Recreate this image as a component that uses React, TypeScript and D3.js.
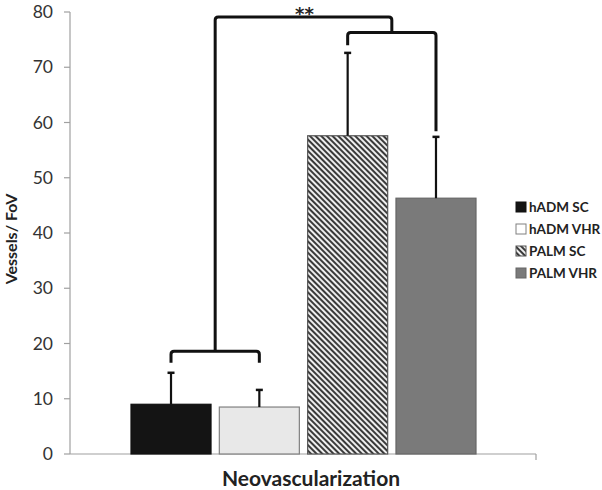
import React from "react";
import * as d3 from "d3";

const groupLabel = "Neovascularization";
const categories = ["hADM SC", "hADM VHR", "PALM SC", "PALM VHR"];
const means = [9.0, 8.5, 57.6, 46.3];
const errors = [5.7, 3.1, 15.0, 11.1];
const yTicks = [0, 10, 20, 30, 40, 50, 60, 70, 80];
const fills = ["#141414", "#e8e8e8", "url(#hatch)", "#7a7a7a"];
const strokes = ["#111", "#808080", "#555", "#666"];
// bracket levels (values)
const lowBracketLevel = 18.6;
const lowBracketLegEnd = 16.5;
const highBracketLevel = 79.1;
const midBracketLevel = 76.3;
const midBracketLegEnds = [74.0, 58.4];
const starLabel = "**";

export default function App() {
  const W = 602, H = 490;
  const y = d3.scaleLinear().domain([0, 80]).range([454, 12]);
  const x0 = d3.scaleBand().domain([groupLabel]).range([70, 536]);
  const gx = x0(groupLabel)!;
  const bw0 = x0.bandwidth();
  const x1 = d3.scaleBand().domain(categories).range([gx + 61, gx + bw0 - 60]).paddingInner(0.094);
  const cx = (i: number) => x1(categories[i])! + x1.bandwidth() / 2;

  const lb = (a: number, b: number, level: number, legA: number, legB: number, r = 3) => {
    const yl = y(level);
    return `M${a},${y(legA)} L${a},${yl + r} Q${a},${yl} ${a + r},${yl} L${b - r},${yl} Q${b},${yl} ${b},${yl + r} L${b},${y(legB)}`;
  };
  const midLow = (cx(0) + cx(1)) / 2;
  const midHigh = (cx(2) + cx(3)) / 2;
  const font = "Lato, 'Open Sans', sans-serif";

  return (
    <svg width={W} height={H} style={{ position: "absolute", left: 0, top: 0 }}>
      <defs>
        <pattern id="hatch" width="4" height="4" patternUnits="userSpaceOnUse" patternTransform="rotate(45)">
          <rect width="4" height="4" fill="#eeeeee" />
          <rect width="4" height="2" fill="#3a3a3a" />
        </pattern>
      </defs>
      <rect width={W} height={H} fill="#fff" />
      {/* y axis */}
      <line x1={70} x2={70} y1={y(80)} y2={y(0)} stroke="#a0a0a0" strokeWidth={1.2} />
      {yTicks.map((t) => (
        <g key={t}>
          <line x1={64} x2={70} y1={y(t)} y2={y(t)} stroke="#a0a0a0" strokeWidth={1.2} />
          <text x={53} y={y(t)} dy="0.35em" textAnchor="end" fontFamily={font} fontSize={17.5} fill="#333">{t}</text>
        </g>
      ))}
      <line x1={70} x2={536} y1={y(0)} y2={y(0)} stroke="#a0a0a0" strokeWidth={1.2} />
      <line x1={536} x2={536} y1={y(0)} y2={y(0) + 6} stroke="#a0a0a0" strokeWidth={1.2} />
      <text transform={`translate(17,239) rotate(-90)`} textAnchor="middle" fontFamily={font} fontSize={16} fontWeight="bold" fill="#222">Vessels/ FoV</text>
      <text x={311} y={486} textAnchor="middle" fontFamily={font} fontSize={21} fontWeight="bold" fill="#222">{groupLabel}</text>

      {/* bars */}
      {categories.map((c, i) => (
        <rect key={c} x={x1(c)} y={y(means[i])} width={x1.bandwidth()} height={y(0) - y(means[i])} fill={fills[i]} stroke={strokes[i]} strokeWidth={1.2} />
      ))}
      {/* error bars */}
      {categories.map((c, i) => (
        <g key={c + "e"}>
          <line x1={cx(i)} x2={cx(i)} y1={y(means[i])} y2={y(means[i] + errors[i])} stroke="#111" strokeWidth={2.2} />
          <line x1={cx(i) - 3.5} x2={cx(i) + 3.5} y1={y(means[i] + errors[i])} y2={y(means[i] + errors[i])} stroke="#111" strokeWidth={2.5} />
        </g>
      ))}
      {/* brackets */}
      <g fill="none" stroke="#111" strokeWidth={3} strokeLinejoin="round" strokeLinecap="butt">
        <path d={lb(cx(0), cx(1), lowBracketLevel, lowBracketLegEnd, lowBracketLegEnd)} />
        <path d={lb(cx(2), cx(3), midBracketLevel, midBracketLegEnds[0], midBracketLegEnds[1])} />
        <path d={lb(midLow, midHigh, highBracketLevel, lowBracketLevel, midBracketLevel)} />
      </g>
      <text x={(midLow + midHigh) / 2 + 1} y={20} textAnchor="middle" fontFamily="'DejaVu Sans', sans-serif" fontSize={18} fontWeight="bold" fill="#222">{starLabel}</text>

      {/* legend */}
      {categories.map((c, i) => (
        <g key={c + "l"} transform={`translate(516,${207 + i * 22})`}>
          <rect x={0} y={-5} width={10} height={10} fill={i === 1 ? "#fff" : fills[i]} stroke={strokes[i]} strokeWidth={1} />
          <text x={13} y={0} dy="0.35em" fontFamily={font} fontSize={13.5} fontWeight="bold" fill="#222">{c}</text>
        </g>
      ))}
    </svg>
  );
}
